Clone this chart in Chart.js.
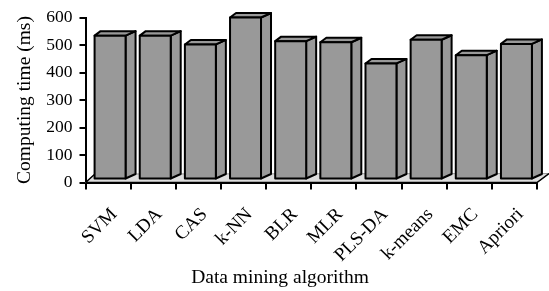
<!DOCTYPE html>
<html><head><meta charset="utf-8">
<script src="https://cdn.jsdelivr.net/npm/chart.js@4"></script>
<style>html,body{margin:0;padding:0;background:#fff}</style>
</head><body>
<canvas id="c" width="549" height="291"></canvas>
<script>
const categories = ['SVM','LDA','CAS','k-NN','BLR','MLR','PLS-DA','k-means','EMC','Apriori'];
const computingTime = [534, 534, 502, 600, 514, 510, 433, 519, 463, 504];
const yTickValues = [0, 100, 200, 300, 400, 500, 600];
const xTitle = 'Data mining algorithm';
const yTitle = 'Computing time (ms)';

Chart.defaults.font.family = '"Liberation Serif", "Times New Roman", serif';
Chart.defaults.color = '#000';

const bar3d = {
  id: 'bar3d',
  beforeDatasetsDraw(chart) {
    const {ctx, chartArea: a} = chart;
    const y0 = a.bottom;
    ctx.save();
    ctx.beginPath();
    ctx.moveTo(a.left, y0);
    ctx.lineTo(a.left + 9.5, y0 - 8.5);
    ctx.lineTo(a.right + 12, y0 - 9);
    ctx.lineTo(a.right, y0);
    ctx.closePath();
    ctx.fillStyle = '#dddddd';
    ctx.fill();
    ctx.strokeStyle = '#9a9a9a';
    ctx.lineWidth = 1;
    ctx.stroke();
    ctx.beginPath();
    ctx.moveTo(a.left, y0);
    ctx.lineTo(a.left + 9.5, y0 - 8.5);
    ctx.moveTo(a.left, y0);
    ctx.lineTo(a.right, y0);
    ctx.lineTo(a.right + 12, y0 - 9);
    ctx.strokeStyle = '#000';
    ctx.lineWidth = 1.5;
    ctx.stroke();
    ctx.restore();
  },
  afterDatasetsDraw(chart) {
    const {ctx} = chart;
    const meta = chart.getDatasetMeta(0);
    ctx.save();
    ctx.lineWidth = 2;
    ctx.lineJoin = 'round';
    ctx.strokeStyle = '#000';
    ctx.fillStyle = '#999999';
    meta.data.forEach(el => {
      const w = el.width;
      const x0 = el.x - w / 2 + 2, x1 = x0 + w;
      const yt = el.y, yb = el.base - 3;
      ctx.beginPath();
      ctx.moveTo(x1, yt); ctx.lineTo(x1 + 10, yt - 4.5);
      ctx.lineTo(x1 + 10, yb - 4.5); ctx.lineTo(x1, yb); ctx.closePath();
      ctx.fill(); ctx.stroke();
      ctx.beginPath();
      ctx.moveTo(x0, yt); ctx.lineTo(x0 + 6, yt - 4.5);
      ctx.lineTo(x1 + 10, yt - 4.5); ctx.lineTo(x1, yt); ctx.closePath();
      ctx.fill(); ctx.stroke();
      ctx.beginPath();
      ctx.rect(x0, yt, w, yb - yt);
      ctx.fill(); ctx.stroke();
    });
    ctx.restore();
  }
};

new Chart(document.getElementById('c'), {
  type: 'bar',
  data: {
    labels: categories,
    datasets: [{
      data: computingTime,
      backgroundColor: 'rgba(0,0,0,0)',
      borderWidth: 0,
      categoryPercentage: 1,
      barPercentage: 0.686
    }]
  },
  options: {
    responsive: false,
    animation: false,
    devicePixelRatio: 1,
    layout: {padding: {left: 11, top: 15, right: 0, bottom: 0}},
    plugins: {
      legend: {display: false},
      tooltip: {enabled: false},
      title: {
        display: true, position: 'bottom', text: xTitle,
        font: {size: 19.5, weight: 'normal'}, color: '#000',
        padding: {top: 4, bottom: 1}
      }
    },
    scales: {
      x: {
        grid: {display: true, drawOnChartArea: false, drawTicks: true, tickLength: 7, color: '#000', lineWidth: 2, offset: true},
        border: {display: true, color: '#000', width: 2},
        ticks: {font: {size: 19}, color: '#000', minRotation: 45, maxRotation: 45, padding: 14, labelOffset: 6, autoSkip: false},
        afterFit: s => { s.height = 80.1; }
      },
      y: {
        min: 0, max: 600,
        afterBuildTicks: s => { s.ticks = yTickValues.map(v => ({value: v})); },
        grid: {display: true, drawOnChartArea: false, drawTicks: true, tickLength: 6, color: '#000', lineWidth: 2},
        border: {display: true, color: '#000', width: 2},
        ticks: {font: {size: 17.5}, color: '#000', padding: 7},
        title: {display: true, text: yTitle, font: {size: 19.5}, color: '#000', padding: {top: 2.6, bottom: 0}},
        afterFit: s => { s.width = 74.5; }
      },
      y2: {
        position: 'right', display: true,
        grid: {display: false}, border: {display: false}, ticks: {display: false},
        afterFit: s => { s.width = 12; }
      }
    }
  },
  plugins: [bar3d]
});
</script>
</body></html>
